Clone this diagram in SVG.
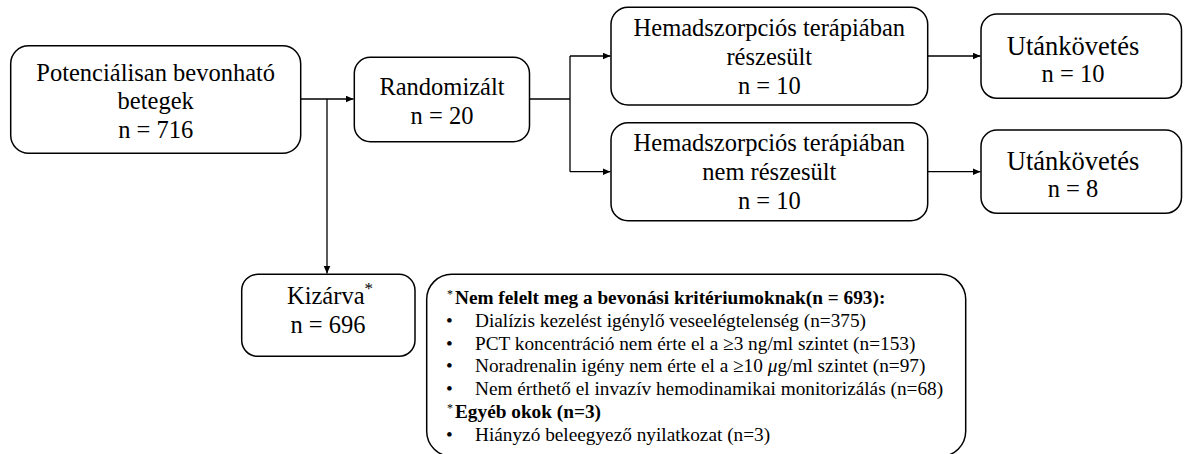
<svg xmlns="http://www.w3.org/2000/svg" width="1184" height="454" viewBox="0 0 1184 454" font-family="'Liberation Serif','Tinos','Times New Roman',serif">
<style>
.box{fill:#fff;stroke:#000;stroke-width:1.5}
.t{font-family:"Liberation Serif","Tinos","Times New Roman",serif;font-size:24.5px;fill:#000;text-anchor:middle}
.big{font-size:26.5px}
.nt{font-family:"Liberation Serif","Tinos","Times New Roman",serif;font-size:19.3px;fill:#000}
.bd{font-weight:bold}
.sup{font-size:12px}
.ln{stroke:#000;stroke-width:1.3;fill:none}
</style>
<defs>
<marker id="ah" markerUnits="userSpaceOnUse" markerWidth="9" markerHeight="8" refX="8" refY="3.5" orient="auto">
<path d="M0,0 L8,3.5 L0,7 z" fill="#000"/>
</marker>
</defs>
<rect width="1184" height="454" fill="#fff"/>
<g id="connectors">
<line class="ln" x1="300.5" y1="99" x2="353.5" y2="99" marker-end="url(#ah)"/>
<line class="ln" x1="327" y1="99" x2="327" y2="273.5" marker-end="url(#ah)"/>
<polyline class="ln" points="529.5,99 570,99"/>
<polyline class="ln" points="570,56 570,171.7"/>
<line class="ln" x1="570" y1="56" x2="610.5" y2="56" marker-end="url(#ah)"/>
<line class="ln" x1="570" y1="171.7" x2="610.5" y2="171.7" marker-end="url(#ah)"/>
<line class="ln" x1="927.7" y1="56" x2="980.5" y2="56" marker-end="url(#ah)"/>
<line class="ln" x1="927.7" y1="171.7" x2="980.5" y2="171.7" marker-end="url(#ah)"/>
</g>
<g id="potential">
<rect class="box" x="10.7" y="45.7" width="290" height="107.6" rx="18"/>
<text class="t" x="155.7" y="80.5">Potenciálisan bevonható</text>
<text class="t" x="155.7" y="109">betegek</text>
<text class="t" x="155.7" y="137.5">n = 716</text>
</g>
<g id="randomized">
<rect class="box" x="354.3" y="57.3" width="175.2" height="84.4" rx="16"/>
<text class="t" x="442" y="95">Randomizált</text>
<text class="t" x="442" y="124">n = 20</text>
</g>
<g id="treated">
<rect class="box" x="611" y="7.3" width="316.7" height="97.7" rx="17"/>
<text class="t" x="769.3" y="35.5">Hemadszorpciós terápiában</text>
<text class="t" x="769.3" y="64.5">részesült</text>
<text class="t" x="769.3" y="93.5">n = 10</text>
</g>
<g id="untreated">
<rect class="box" x="611" y="122.7" width="316.7" height="98" rx="17"/>
<text class="t" x="769.3" y="151">Hemadszorpciós terápiában</text>
<text class="t" x="769.3" y="180">nem részesült</text>
<text class="t" x="769.3" y="209">n = 10</text>
</g>
<g id="followup1">
<rect class="box" x="981" y="14" width="200.5" height="84.3" rx="16"/>
<text class="t big" x="1073" y="54.5">Utánkövetés</text>
<text class="t" x="1073" y="82">n = 10</text>
</g>
<g id="followup2">
<rect class="box" x="981" y="130" width="200.5" height="83.3" rx="16"/>
<text class="t big" x="1073" y="170">Utánkövetés</text>
<text class="t" x="1073" y="197">n = 8</text>
</g>
<g id="excluded">
<rect class="box" x="241.7" y="274.3" width="173.3" height="82" rx="16"/>
<text class="t" x="330" y="304">Kizárva<tspan style="font-size:17px" dy="-10">*</tspan></text>
<text class="t" x="328" y="333">n = 696</text>
</g>
<g id="note">
<rect class="box" x="426.7" y="274.3" width="539" height="182" rx="25"/>
<text class="nt sup" x="447" y="298">*</text>
<text class="nt bd" x="455" y="304">Nem felelt meg a bevonási kritériumoknak(n = 693):</text>
<text class="nt" x="446" y="327">•</text>
<text class="nt" x="475" y="327">Dialízis kezelést igénylő veseelégtelenség (n=375)</text>
<text class="nt" x="446" y="349.5">•</text>
<text class="nt" x="475" y="349.5">PCT koncentráció nem érte el a ≥3 ng/ml szintet (n=153)</text>
<text class="nt" x="446" y="372">•</text>
<text class="nt" x="475" y="372">Noradrenalin igény nem érte el a ≥10 <tspan font-style="italic">μ</tspan>g/ml szintet (n=97)</text>
<text class="nt" x="446" y="395">•</text>
<text class="nt" x="475" y="395">Nem érthető el invazív hemodinamikai monitorizálás (n=68)</text>
<text class="nt sup" x="447" y="412">*</text>
<text class="nt bd" x="455" y="418">Egyéb okok (n=3)</text>
<text class="nt" x="446" y="440.5">•</text>
<text class="nt" x="475" y="440.5">Hiányzó beleegyező nyilatkozat (n=3)</text>
</g>
</svg>
